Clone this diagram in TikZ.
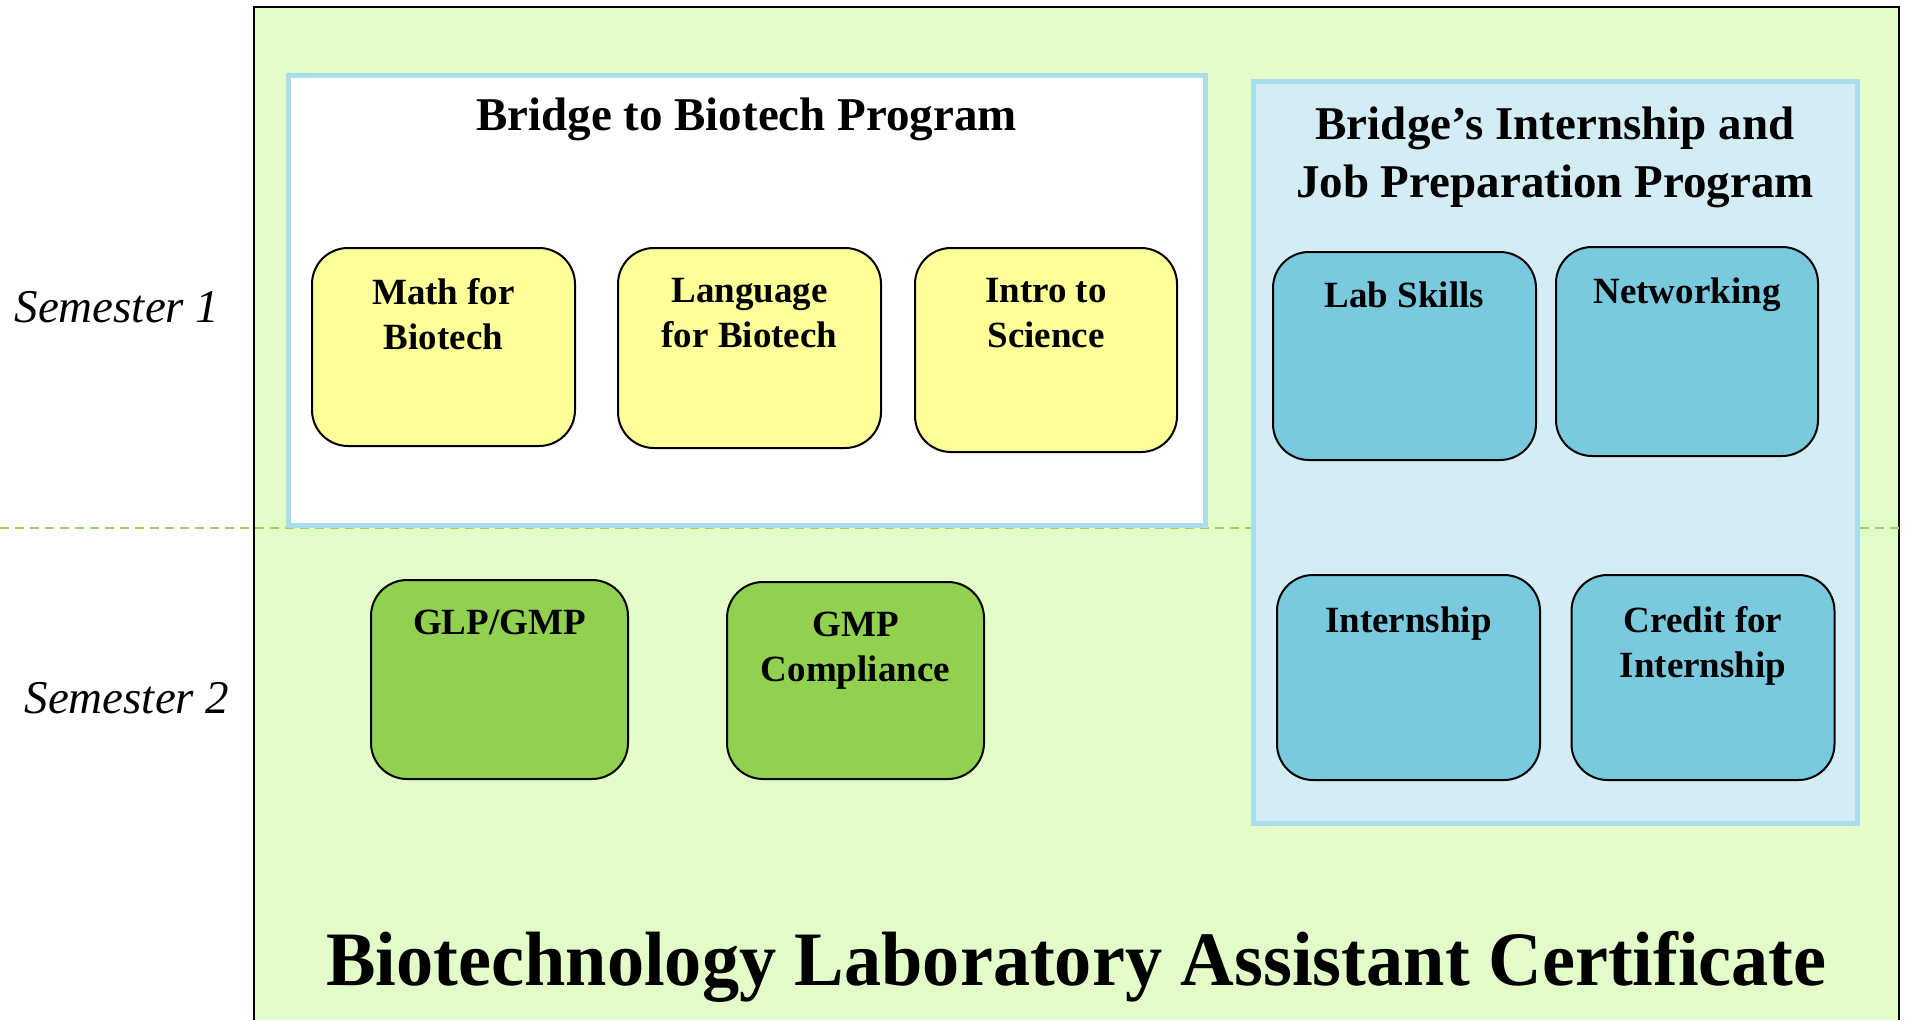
\documentclass[tikz,border=0pt]{standalone}
\usepackage{fontspec}
\usepackage{graphicx}
\setmainfont{Liberation Serif}
\definecolor{bggreen}{HTML}{E3FDC9}
\definecolor{dashgreen}{HTML}{9BD35F}
\definecolor{contborder}{HTML}{A8DDEB}
\definecolor{contfill}{HTML}{D4EDF4}
\definecolor{ylwfill}{HTML}{FFFF99}
\definecolor{grnfill}{HTML}{92D050}
\definecolor{blufill}{HTML}{7ACADF}
\begin{document}
\begin{tikzpicture}[x=1pt,y=-1pt,
  course/.style={draw=black, line width=2pt, rounded corners=36pt, inner sep=0pt},
  ylw/.style={course, fill=ylwfill},
  grn/.style={course, fill=grnfill},
  blu/.style={course, fill=blufill},
  lbl/.style={anchor=north, inner sep=0pt, align=center, font=\bfseries\fontsize{37}{45}\selectfont},
  ptitle/.style={anchor=north, inner sep=0pt, align=center, font=\bfseries\fontsize{47}{58}\selectfont},
  sem/.style={anchor=base, inner sep=0pt, font=\itshape\fontsize{47}{56}\selectfont},
  container/.style={draw=contborder, line width=5pt, inner sep=0pt}
]
\useasboundingbox (0,0) rectangle (1905,1020);
% outer certificate area
\fill[bggreen] (254,7) rectangle (1899,1020);
\draw[line width=2pt] (254,1020) -- (254,7) -- (1899,7) -- (1899,1020);
% semester divider
\draw[dashgreen, line width=2pt, dash pattern=on 9pt off 6pt] (0,528) -- (1905,528);

% semester labels
\node[sem] (sem1) at (117,322) {Semester 1};
\node[sem] (sem2) at (127,713) {Semester 2};

% Bridge to Biotech container
\node[container, fill=white, minimum width=917pt, minimum height=450pt] (bridge) at (746.5,300) {};
\node[anchor=base, inner sep=0pt, font=\bfseries\fontsize{47}{58}\selectfont] (bridgeT) at (746.5,130) {Bridge to Biotech Program};

% Internship container
\node[container, fill=contfill, minimum width=604pt, minimum height=742pt] (intern) at (1555,452) {};
\node[ptitle] (internT) at (1555,107) {Bridge’s Internship and\\Job Preparation Program};

% yellow courses
\node[ylw, minimum width=263pt, minimum height=198pt] (math) at (443.5,347) {};
\node[lbl] (mathT) at (443.5,278.5) {Math for\\Biotech};
\node[ylw, minimum width=263pt, minimum height=200pt] (lang) at (749.5,348) {};
\node[lbl] (langT) at (749.5,278.5) {Language\\for Biotech};
\node[ylw, minimum width=262pt, minimum height=204pt] (intro) at (1046,350) {};
\node[lbl] (introT) at (1046,278.5) {Intro to\\Science};

% blue courses
\node[blu, minimum width=263pt, minimum height=208pt] (lab) at (1404.5,356) {};
\node[lbl] (labT) at (1404.5,281.5) {Lab Skills};
\node[blu, minimum width=262pt, minimum height=209pt] (net) at (1687,351.5) {};
\node[lbl] (netT) at (1687,277.5) {Networking};
\node[blu, minimum width=263pt, minimum height=205pt] (intship) at (1408.5,677.5) {};
\node[lbl] (intshipT) at (1408.5,606.5) {Internship};
\node[blu, minimum width=263pt, minimum height=205pt] (credit) at (1703,677.5) {};
\node[lbl] (creditT) at (1703,606.5) {Credit for\\Internship};

% green courses
\node[grn, minimum width=257pt, minimum height=199pt] (glp) at (499.5,679.5) {};
\node[lbl] (glpT) at (499.5,609.5) {GLP/GMP};
\node[grn, minimum width=257pt, minimum height=197pt] (gmpc) at (855.5,680.5) {};
\node[lbl] (gmpcT) at (855.5,611.5) {GMP\\Compliance};

% certificate title
\node[anchor=base, inner sep=0pt, font=\bfseries\fontsize{77}{90}\selectfont] (cert) at (1076.5,985) {\scalebox{0.965}[1]{Biotechnology Laboratory Assistant Certificate}};
\end{tikzpicture}
\end{document}
